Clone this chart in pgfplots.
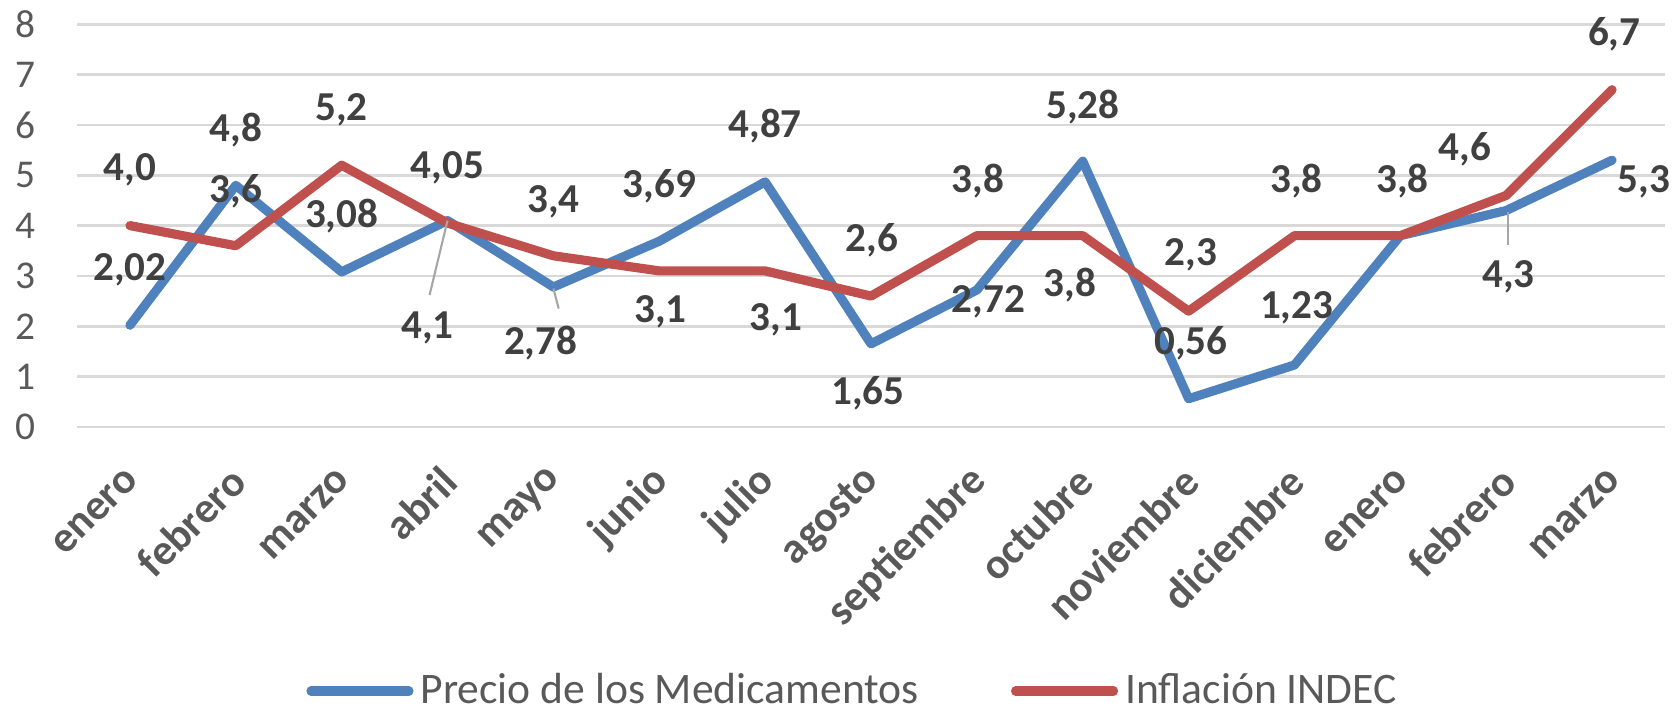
\documentclass[border=0pt]{standalone}
\usepackage{fontspec}
\setmainfont{Carlito}
\usepackage{pgfplots}
\usepackage{pgfplotstable}
\pgfplotsset{compat=1.18}

\definecolor{medblue}{HTML}{4F81BD}
\definecolor{infred}{HTML}{C0504D}
\definecolor{gridgray}{HTML}{D9D9D9}
\definecolor{ticktext}{HTML}{595959}
\definecolor{lbltext}{HTML}{404040}
\definecolor{leadergray}{HTML}{A6A6A6}

% valores mensuales (%)
\pgfplotstableread{
x precio inflacion
0  2.02 4.0
1  4.8  3.6
2  3.08 5.2
3  4.1  4.05
4  2.78 3.4
5  3.69 3.1
6  4.87 3.1
7  1.65 2.6
8  2.72 3.8
9  5.28 3.8
10 0.56 2.3
11 1.23 3.8
12 3.8  3.8
13 4.3  4.6
14 5.3  6.7
}\datos

% posiciones de las etiquetas de datos
\pgfplotstableread{
x     y    lbl
0     3.13 {2,02}
1     5.89 {4,8}
2     4.18 {3,08}
2.81  1.96 {4,1}
3.88  1.66 {2,78}
5     4.79 {3,69}
6     5.97 {4,87}
6.97  0.66 {1,65}
8.11  2.49 {2,72}
9     6.36 {5,28}
10.02 1.66 {0,56}
11.02 2.36 {1,23}
13.02 2.99 {4,3}
14.30 4.88 {5,3}
0     5.10 {4,0}
1     4.68 {3,6}
2     6.30 {5,2}
3     5.14 {4,05}
4     4.48 {3,4}
5.01  2.29 {3,1}
6.10  2.12 {3,1}
7.01  3.70 {2,6}
8.01  4.88 {3,8}
8.88  2.82 {3,8}
10.02 3.42 {2,3}
11.02 4.88 {3,8}
12.02 4.88 {3,8}
12.61 5.51 {4,6}
14.02 7.80 {6,7}
}\etiquetas

\begin{document}
\begin{tikzpicture}
\useasboundingbox (-7.7mm,-28.31mm) rectangle (160.3mm,42.69mm);
\begin{axis}[
    at={(0,0)}, anchor=south west,
    scale only axis,
    width=158.8mm, height=40.26mm,
    xmin=-0.5, xmax=14.5,
    ymin=0, ymax=8,
    xtick={0,...,14},
    xticklabels={enero,febrero,marzo,abril,mayo,junio,julio,agosto,septiembre,octubre,noviembre,diciembre,enero,febrero,marzo},
    ytick={0,...,8},
    ymajorgrids,
    grid style={gridgray, line width=0.75pt},
    axis line style={draw=none},
    major tick length=0pt,
    /pgf/number format/assume math mode=true,
    tick label style={text=ticktext},
    yticklabel style={font=\fontsize{11.2}{13}\selectfont, xshift=-2.9mm},
    xticklabel style={font=\fontsize{12.3}{14}\selectfont\bfseries, xshift=1.1mm, yshift=-3.9mm, rotate=45, anchor=east},
    legend style={at={(0.49,-0.656)}, anchor=center, draw=none, fill=none,
        legend columns=2, font=\fontsize{12.4}{15}\selectfont, text=ticktext,
        /tikz/every even column/.append style={column sep=8.5mm}},
    legend image code/.code={\draw[#1, line width=2.6pt, line cap=round] (0mm,0mm) -- (9.8mm,0mm);},
]
\addplot[medblue, line width=2.6pt, line cap=round, line join=round] table[x=x, y=precio] {\datos};
\addlegendentry{Precio de los Medicamentos}
\addplot[infred, line width=2.6pt, line cap=round, line join=round] table[x=x, y=inflacion] {\datos};
\addlegendentry{Inflación INDEC}

% líneas guía
\addplot[leadergray, line width=0.6pt, forget plot] coordinates {(2.83,2.62) (3.0,4.1)};
\addplot[leadergray, line width=0.6pt, forget plot] coordinates {(4.0,2.75) (4.05,2.35)};
\addplot[leadergray, line width=0.6pt, forget plot] coordinates {(13.02,3.62) (13.02,4.28)};

\addplot[draw=none, forget plot, nodes near coords, point meta=explicit symbolic,
    nodes near coords align=center,
    every node near coord/.append style={font=\fontsize{11.7}{14}\selectfont\bfseries, text=lbltext, anchor=center}]
    table[x=x, y=y, meta=lbl] {\etiquetas};
\end{axis}
\end{tikzpicture}
\end{document}
